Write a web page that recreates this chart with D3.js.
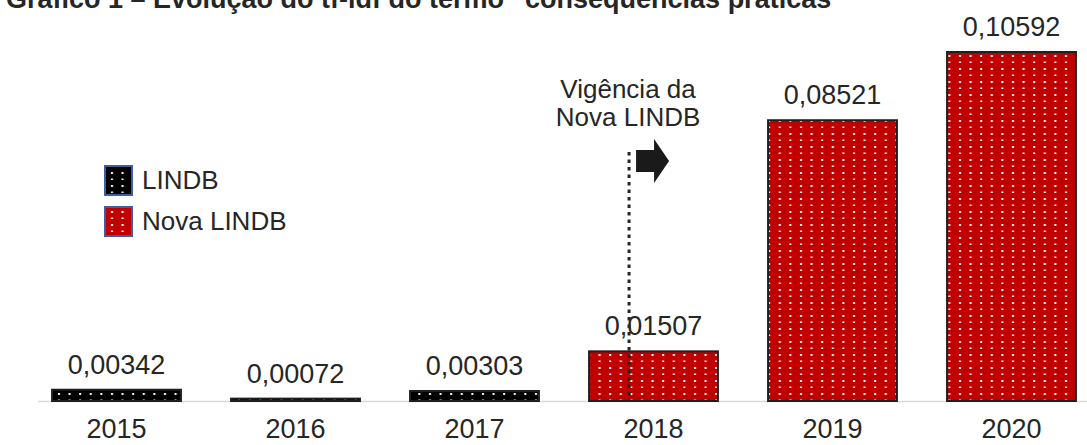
<!DOCTYPE html>
<html>
<head>
<meta charset="utf-8">
<script src="https://cdn.jsdelivr.net/npm/d3@7"></script>
<style>
  body { margin: 0; background: #fff; }
  svg { display: block; font-family: "Liberation Sans", Arial, sans-serif; }
</style>
</head>
<body>
<svg width="1087" height="445"></svg>
<script>
var years = ["2015", "2016", "2017", "2018", "2019", "2020"];
var values = [0.00342, 0.00072, 0.00303, 0.01507, 0.08521, 0.10592];
var groups = ["LINDB", "LINDB", "LINDB", "Nova LINDB", "Nova LINDB", "Nova LINDB"];
var legendLabels = ["LINDB", "Nova LINDB"];
var valueLabels = ["0,00342", "0,00072", "0,00303", "0,01507", "0,08521", "0,10592"];

var svg = d3.select("svg"),
    baseY = 401;

var colors = {"LINDB": "#000000", "Nova LINDB": "#c00000"};

// dotted fill patterns
var defs = svg.append("defs");
legendLabels.forEach(function(k, i) {
  var p = defs.append("pattern")
      .attr("id", "pat" + i)
      .attr("patternUnits", "userSpaceOnUse")
      .attr("width", 10.6)
      .attr("height", 13)
      .attr("x", 2).attr("y", 0);
  p.append("rect").attr("width", 10.6).attr("height", 13).attr("fill", colors[k]);
  p.append("rect").attr("x", 3).attr("y", 3).attr("width", 2).attr("height", 2).attr("fill", "#fff");
  p.append("rect").attr("x", 3).attr("y", 9.5).attr("width", 2).attr("height", 1.5).attr("fill", "#fff");
});

var x = d3.scaleBand().domain(years).range([27, 1101]).paddingInner(0.28).paddingOuter(0.14);
var y = d3.scaleLinear().domain([0, 0.10592]).range([baseY, 52]);

// title (cut at top)
svg.append("text")
    .attr("x", 6).attr("y", 8)
    .attr("font-size", 27).attr("font-weight", "bold").attr("fill", "#262626")
    .text("Gráfico 1 – Evolução do tf-idf do termo \u201Cconsequências práticas\u201D");

// baseline
svg.append("line")
    .attr("x1", 38).attr("x2", 1087)
    .attr("y1", baseY + 0.5).attr("y2", baseY + 0.5)
    .attr("stroke", "#d9d9d9").attr("stroke-width", 1.5);

svg.selectAll(".bar")
  .data(years)
  .enter().append("rect")
    .attr("class", "bar")
    .attr("x", function(d) { return x(d); })
    .attr("y", function(d, i) { return y(values[i]); })
    .attr("width", x.bandwidth())
    .attr("height", function(d, i) { return baseY - y(values[i]); })
    .attr("fill", function(d, i) { return "url(#pat" + legendLabels.indexOf(groups[i]) + ")"; })
    .attr("stroke", "#1f1f1f")
    .attr("stroke-width", 2);

svg.selectAll(".vlab")
  .data(years)
  .enter().append("text")
    .attr("class", "vlab")
    .attr("x", function(d) { return x(d) + x.bandwidth() / 2; })
    .attr("y", function(d, i) { return y(values[i]) - 16; })
    .attr("text-anchor", "middle")
    .attr("font-size", 27).attr("fill", "#262626")
    .text(function(d, i) { return valueLabels[i]; });

var xAxis = svg.append("g")
    .attr("transform", "translate(0," + baseY + ")")
    .call(d3.axisBottom(x).tickSize(0).tickPadding(18));
xAxis.select(".domain").remove();
xAxis.selectAll("text")
    .attr("font-size", 27).attr("fill", "#262626")
    .attr("font-family", "Liberation Sans, Arial, sans-serif");

// legend
var leg = svg.append("g");
legendLabels.forEach(function(k, i) {
  var ly = 166 + i * 41;
  leg.append("rect")
      .attr("x", 105).attr("y", ly).attr("width", 27).attr("height", 29)
      .attr("fill", "url(#pat" + i + ")")
      .attr("stroke", "#3b5fa0").attr("stroke-width", 2);
  leg.append("text")
      .attr("x", 142).attr("y", ly + 23)
      .attr("font-size", 26).attr("fill", "#262626")
      .text(k);
});

// annotation "Vigência da Nova LINDB"
var ax = x("2018") + 40;
svg.append("line")
    .attr("x1", ax).attr("x2", ax)
    .attr("y1", 152).attr("y2", baseY)
    .attr("stroke", "#262626").attr("stroke-width", 3)
    .attr("stroke-dasharray", "3.5,4");
svg.append("path")
    .attr("d", "M" + (ax + 7) + ",150 L" + (ax + 25) + ",150 L" + (ax + 25) + ",139 L" + (ax + 40) + ",161 L" + (ax + 25) + ",183 L" + (ax + 25) + ",172 L" + (ax + 7) + ",172 Z")
    .attr("fill", "#1a1a1a");
var ann = svg.append("text")
    .attr("x", ax - 1).attr("text-anchor", "middle")
    .attr("font-size", 26).attr("fill", "#262626");
ann.append("tspan").attr("x", ax - 1).attr("y", 98).text("Vigência da");
ann.append("tspan").attr("x", ax - 1).attr("y", 126).text("Nova LINDB");
</script>
</body>
</html>
